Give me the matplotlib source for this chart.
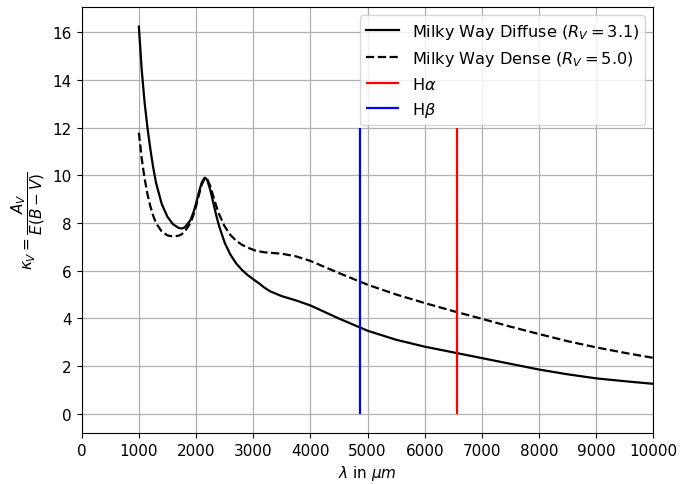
import matplotlib
matplotlib.use("Agg")
import matplotlib.pyplot as plt

# wavelength samples (Angstrom)
wavelength = [1000, 1050, 1100, 1150, 1200, 1250, 1300, 1400, 1500, 1600, 1700, 1750, 1800,
              1900, 1950, 2000, 2050, 2100, 2150, 2175, 2200, 2250, 2300, 2350, 2400,
              2500, 2600, 2700, 2800, 2900, 3030, 3100, 3200, 3300, 3500, 3750, 4000,
              4500, 5000, 5500, 6000, 6563, 7000, 7500, 8000, 8500, 9000, 9500, 10000]

# Milky Way diffuse, R_V = 3.1
kappa_diffuse = [16.24, 14.43, 13.07, 12.01, 11.12, 10.34, 9.69, 8.80, 8.26, 7.94, 7.79, 7.77, 7.81,
                 8.11, 8.41, 8.81, 9.29, 9.70, 9.90, 9.87, 9.77, 9.38, 8.87, 8.36, 7.90,
                 7.18, 6.68, 6.31, 6.04, 5.82, 5.59, 5.47, 5.28, 5.13, 4.93, 4.75, 4.54,
                 3.99, 3.48, 3.10, 2.81, 2.54, 2.33, 2.09, 1.85, 1.65, 1.48, 1.36, 1.25]

# Milky Way dense, R_V = 5.0
kappa_dense = [11.79, 10.71, 9.87, 9.22, 8.71, 8.31, 8.00, 7.64, 7.48, 7.43, 7.47, 7.53, 7.63,
               7.99, 8.30, 8.70, 9.17, 9.61, 9.86, 9.87, 9.82, 9.54, 9.14, 8.74, 8.39,
               7.86, 7.50, 7.26, 7.09, 6.97, 6.85, 6.81, 6.77, 6.75, 6.71, 6.60, 6.41,
               5.90, 5.41, 5.00, 4.64, 4.26, 3.98, 3.65, 3.34, 3.04, 2.78, 2.55, 2.34]

h_alpha = 6563
h_beta = 4861
line_bottom = 0
line_top = 12

x_ticks = list(range(0, 10001, 1000))

plt.rcParams['font.family'] = ['DejaVu Sans']
fig = plt.figure(figsize=(6.83, 4.85), dpi=100)
ax = fig.add_subplot(111)
fig.subplots_adjust(left=0.1196, right=0.9566, bottom=0.1052, top=0.9829)

ax.plot(wavelength, kappa_diffuse, color='black', lw=1.6, label=r'Milky Way Diffuse ($R_V = 3.1$)')
ax.plot(wavelength, kappa_dense, color='black', lw=1.6, ls='--', label=r'Milky Way Dense ($R_V = 5.0$)')
ax.vlines(h_alpha, line_bottom, line_top, color='red', lw=1.6, label=r'H$\alpha$')
ax.vlines(h_beta, line_bottom, line_top, color='blue', lw=1.6, label=r'H$\beta$')

ax.set_xlim(0, 10000)
ax.set_xticks(x_ticks)
ax.tick_params(labelsize=11)
ax.grid(True, color='#b0b0b0', lw=0.9)
ax.set_xlabel(r'$\lambda$ in $\mu m$', fontsize=11)
ax.set_ylabel(r'$\kappa_V = \dfrac{A_V}{E(B-V)}$', fontsize=11)
ax.legend(loc='upper right', fontsize=11.6)

fig.savefig('out.png', dpi=100)
